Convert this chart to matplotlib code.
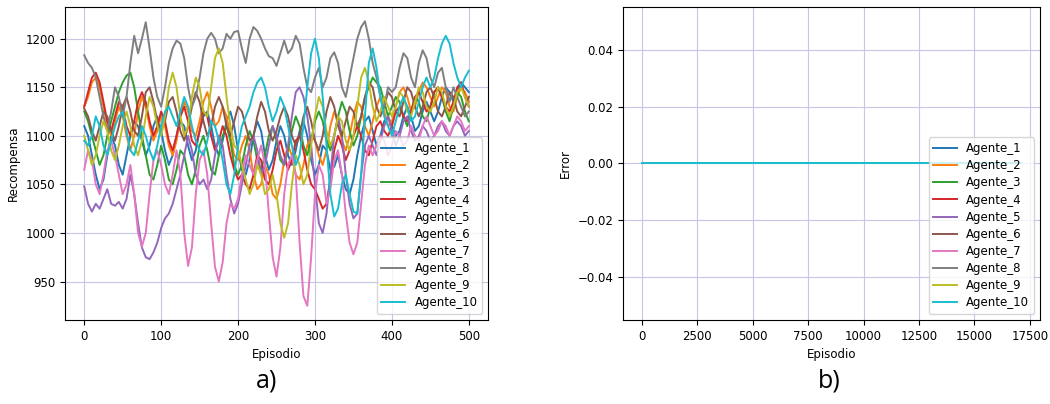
import numpy as np
import matplotlib
matplotlib.use("Agg")
import matplotlib.pyplot as plt

# ---- Rewards per agent (sampled every 5 episodes) ----
episodes = np.arange(0, 501, 5)

agente_1 = [1110, 1100, 1080, 1060, 1045, 1055, 1080, 1100, 1090, 1070,
            1060, 1080, 1100, 1115, 1110, 1095, 1080, 1090, 1110, 1120,
            1105, 1085, 1070, 1080, 1100, 1115, 1110, 1090, 1075, 1085,
            1105, 1120, 1125, 1110, 1090, 1080, 1095, 1115, 1125, 1110,
            1085, 1065, 1060, 1075, 1100, 1115, 1105, 1080, 1065, 1075,
            1095, 1110, 1100, 1080, 1070, 1085, 1105, 1115, 1100, 1075,
            1060, 1070, 1090, 1085, 1065, 1068, 1080, 1060, 1045, 1040,
            1055, 1080, 1100, 1115, 1120, 1105, 1090, 1100, 1115, 1120,
            1110, 1100, 1105, 1120, 1130, 1120, 1105, 1110, 1125, 1135,
            1125, 1115, 1125, 1140, 1150, 1145, 1135, 1145, 1155, 1150, 1145]

agente_2 = [1130, 1140, 1155, 1160, 1150, 1130, 1110, 1100, 1115, 1130,
            1120, 1100, 1085, 1100, 1125, 1140, 1130, 1110, 1095, 1105,
            1120, 1110, 1090, 1080, 1095, 1120, 1135, 1125, 1105, 1100,
            1115, 1135, 1145, 1130, 1110, 1115, 1130, 1120, 1100, 1080,
            1075, 1090, 1100, 1085, 1060, 1045, 1050, 1070, 1060, 1040,
            1035, 1050, 1075, 1090, 1080, 1060, 1055, 1070, 1090, 1100,
            1095, 1080, 1070, 1085, 1110, 1125, 1115, 1095, 1085, 1100,
            1120, 1135, 1130, 1110, 1100, 1115, 1130, 1140, 1125, 1110,
            1115, 1130, 1145, 1150, 1140, 1125, 1130, 1145, 1155, 1150,
            1140, 1130, 1140, 1150, 1145, 1130, 1125, 1140, 1150, 1145, 1135]

agente_3 = [1125, 1115, 1100, 1085, 1070, 1080, 1100, 1115, 1130, 1145,
            1155, 1162, 1165, 1150, 1125, 1100, 1080, 1060, 1055, 1070,
            1090, 1075, 1055, 1050, 1065, 1085, 1080, 1060, 1050, 1065,
            1090, 1100, 1085, 1065, 1060, 1080, 1100, 1110, 1095, 1070,
            1060, 1070, 1090, 1105, 1095, 1075, 1065, 1080, 1100, 1110,
            1095, 1075, 1070, 1085, 1105, 1120, 1110, 1090, 1080, 1095,
            1115, 1125, 1115, 1095, 1085, 1100, 1120, 1135, 1125, 1105,
            1090, 1100, 1120, 1140, 1150, 1160, 1155, 1150, 1135, 1120,
            1130, 1140, 1135, 1120, 1110, 1125, 1140, 1135, 1120, 1115,
            1130, 1145, 1150, 1140, 1125, 1115, 1130, 1145, 1140, 1125, 1115]

agente_4 = [1130, 1145, 1160, 1165, 1155, 1135, 1115, 1105, 1120, 1135,
            1130, 1110, 1100, 1115, 1135, 1145, 1135, 1115, 1100, 1110,
            1125, 1115, 1095, 1085, 1100, 1120, 1130, 1115, 1095, 1090,
            1105, 1125, 1120, 1100, 1085, 1095, 1110, 1100, 1080, 1065,
            1055, 1060, 1050, 1045, 1060, 1080, 1075, 1055, 1050, 1065,
            1085, 1095, 1080, 1065, 1075, 1095, 1100, 1085, 1065, 1050,
            1045, 1035, 1025, 1030, 1055, 1085, 1100, 1090, 1075, 1085,
            1100, 1110, 1100, 1085, 1080, 1095, 1110, 1115, 1105, 1100,
            1110, 1125, 1130, 1120, 1115, 1125, 1140, 1145, 1135, 1125,
            1130, 1145, 1150, 1140, 1130, 1125, 1135, 1150, 1155, 1140, 1130]

agente_5 = [1048, 1030, 1022, 1030, 1025, 1035, 1045, 1030, 1028, 1032,
            1025, 1035, 1060, 1040, 1010, 985, 975, 973, 980, 990,
            1005, 1015, 1020, 1030, 1045, 1060, 1080, 1100, 1085, 1060,
            1050, 1055, 1045, 1055, 1080, 1100, 1090, 1060, 1035, 1020,
            1030, 1050, 1070, 1090, 1100, 1085, 1060, 1070, 1090, 1110,
            1100, 1080, 1070, 1090, 1120, 1145, 1150, 1140, 1120, 1090,
            1050, 1010, 1000, 1020, 1060, 1100, 1120, 1100, 1060, 1030,
            1015, 1020, 1060, 1090, 1100, 1090, 1080, 1095, 1110, 1120,
            1105, 1090, 1100, 1115, 1120, 1105, 1095, 1100, 1110, 1105,
            1095, 1100, 1110, 1115, 1105, 1100, 1110, 1115, 1110, 1100, 1105]

agente_6 = [1128, 1120, 1105, 1095, 1110, 1125, 1120, 1105, 1095, 1110,
            1130, 1140, 1125, 1105, 1100, 1120, 1145, 1150, 1135, 1115,
            1105, 1115, 1135, 1140, 1125, 1105, 1095, 1110, 1130, 1145,
            1135, 1115, 1100, 1110, 1130, 1140, 1130, 1110, 1100, 1115,
            1130, 1125, 1110, 1095, 1100, 1120, 1135, 1125, 1105, 1095,
            1105, 1120, 1130, 1120, 1100, 1090, 1100, 1120, 1130, 1115,
            1095, 1085, 1100, 1125, 1140, 1130, 1110, 1100, 1115, 1130,
            1125, 1110, 1120, 1140, 1155, 1150, 1130, 1120, 1130, 1145,
            1140, 1125, 1120, 1135, 1150, 1145, 1130, 1120, 1130, 1145,
            1150, 1140, 1125, 1120, 1130, 1145, 1140, 1125, 1120, 1130, 1140]

agente_7 = [1065, 1085, 1075, 1050, 1040, 1060, 1085, 1095, 1080, 1060,
            1040, 1050, 1070, 1040, 1000, 986, 1000, 1040, 1075, 1085,
            1070, 1050, 1040, 1060, 1085, 1060, 1000, 966, 985, 1040,
            1075, 1085, 1060, 1010, 965, 950, 970, 1010, 1030, 1025,
            1035, 1060, 1080, 1070, 1060, 1075, 1090, 1070, 1020, 975,
            955, 985, 1040, 1070, 1080, 1060, 990, 935, 925, 975,
            1040, 1070, 1060, 1030, 1045, 1075, 1085, 1060, 1020, 990,
            978, 990, 1030, 1070, 1090, 1080, 1090, 1100, 1095, 1080,
            1090, 1105, 1100, 1090, 1095, 1110, 1100, 1095, 1110, 1120,
            1110, 1100, 1105, 1115, 1110, 1100, 1110, 1120, 1115, 1105, 1110]

agente_8 = [1183, 1175, 1170, 1160, 1140, 1120, 1105, 1125, 1150, 1140,
            1120, 1140, 1175, 1203, 1185, 1200, 1217, 1190, 1160, 1140,
            1130, 1150, 1175, 1190, 1198, 1195, 1180, 1150, 1130, 1140,
            1160, 1185, 1200, 1206, 1200, 1185, 1190, 1205, 1200, 1207,
            1208, 1190, 1175, 1200, 1212, 1208, 1200, 1190, 1182, 1180,
            1172, 1185, 1198, 1185, 1190, 1203, 1195, 1170, 1150, 1145,
            1160, 1170, 1150, 1160, 1180, 1186, 1175, 1150, 1140, 1160,
            1180, 1200, 1212, 1218, 1200, 1175, 1160, 1140, 1130, 1150,
            1145, 1150, 1170, 1185, 1180, 1160, 1150, 1175, 1188, 1180,
            1160, 1150, 1165, 1170, 1150, 1135, 1150, 1140, 1130, 1120, 1125]

agente_9 = [1100, 1085, 1070, 1080, 1100, 1115, 1105, 1085, 1075, 1090,
            1110, 1125, 1110, 1090, 1080, 1095, 1120, 1140, 1130, 1110,
            1100, 1120, 1150, 1165, 1150, 1120, 1100, 1110, 1140, 1160,
            1150, 1125, 1120, 1150, 1180, 1190, 1175, 1140, 1110, 1090,
            1085, 1070, 1055, 1040, 1050, 1070, 1060, 1040, 1045, 1060,
            1040, 1010, 995, 1010, 1050, 1080, 1070, 1050, 1060, 1090,
            1120, 1140, 1130, 1105, 1090, 1100, 1120, 1115, 1095, 1085,
            1100, 1130, 1160, 1170, 1155, 1130, 1115, 1125, 1140, 1130,
            1120, 1130, 1145, 1140, 1125, 1120, 1135, 1150, 1145, 1130,
            1125, 1135, 1150, 1145, 1130, 1120, 1130, 1145, 1150, 1140, 1130]

agente_10 = [1095, 1090, 1100, 1120, 1110, 1090, 1080, 1095, 1110, 1120,
             1125, 1105, 1085, 1080, 1095, 1110, 1100, 1085, 1075, 1090,
             1110, 1125, 1130, 1120, 1110, 1125, 1140, 1130, 1110, 1095,
             1085, 1080, 1095, 1115, 1110, 1095, 1075, 1050, 1040, 1060,
             1090, 1110, 1120, 1130, 1145, 1155, 1160, 1150, 1130, 1115,
             1125, 1140, 1130, 1110, 1090, 1070, 1080, 1110, 1150, 1185,
             1200, 1180, 1140, 1090, 1040, 1017, 1025, 1050, 1060, 1040,
             1022, 1020, 1060, 1120, 1175, 1190, 1170, 1140, 1120, 1110,
             1100, 1115, 1130, 1140, 1130, 1115, 1120, 1135, 1150, 1160,
             1150, 1160, 1180, 1195, 1203, 1195, 1175, 1160, 1150, 1160, 1167]

rewards = [agente_1, agente_2, agente_3, agente_4, agente_5,
           agente_6, agente_7, agente_8, agente_9, agente_10]
labels = [f"Agente_{i}" for i in range(1, 11)]

# ---- Error per agent over the training episodes (identically zero) ----
error_episodes = np.arange(0, 17101, 100)
error_values = [np.zeros(len(error_episodes)) for _ in labels]

plt.rcParams["font.family"] = ["DejaVu Sans"]
fig = plt.figure(figsize=(10.5, 4.04), dpi=100)
ax_a = fig.add_axes([0.0619, 0.2079, 0.4029, 0.7748])
ax_b = fig.add_axes([0.5933, 0.2079, 0.3971, 0.7748])

fs = 8.5
grid_kw = dict(color="#c6c6e6", linewidth=0.8)
legend_kw = dict(loc="lower right", fontsize=8.5, labelspacing=0.35)

for vals, lab in zip(rewards, labels):
    ax_a.plot(episodes, vals, label=lab, linewidth=1.4)
ax_a.set_xlabel("Episodio", fontsize=fs)
ax_a.set_ylabel("Recompensa", fontsize=fs)
ax_a.set_xticks([0, 100, 200, 300, 400, 500])
ax_a.set_yticks([950, 1000, 1050, 1100, 1150, 1200])
ax_a.grid(True, **grid_kw)
ax_a.legend(**legend_kw)

for vals, lab in zip(error_values, labels):
    ax_b.plot(error_episodes, vals, label=lab, linewidth=1.4)
ax_b.set_xlabel("Episodio", fontsize=fs)
ax_b.set_ylabel("Error", fontsize=fs)
ax_b.set_xticks(np.arange(0, 17501, 2500))
ax_b.grid(True, **grid_kw)
ax_b.legend(**legend_kw)

for ax in (ax_a, ax_b):
    ax.tick_params(labelsize=fs)

fig.text(0.254, 0.057, "a)", fontsize=18, family="Open Sans", ha="center", va="center")
fig.text(0.790, 0.057, "b)", fontsize=18, family="Open Sans", ha="center", va="center")

fig.savefig("out.png", dpi=100)
